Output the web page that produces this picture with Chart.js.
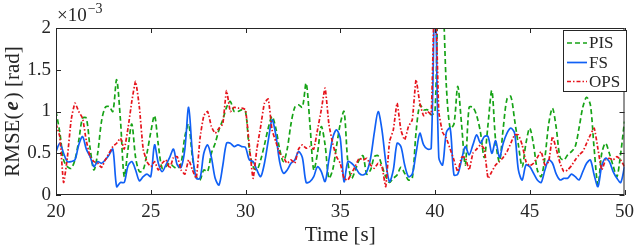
<!DOCTYPE html>
<html>
<head>
<meta charset="utf-8">
<script src="https://cdn.jsdelivr.net/npm/chart.js@4/dist/chart.umd.min.js"></script>
<style>
html,body{margin:0;padding:0;background:#fff;}
#c{display:block;}
</style>
</head>
<body>
<canvas id="c" width="640" height="248"></canvas>
<script>
// ---- data (values in units of 1e-3 rad) ----
const timeS = [
20.0,20.2,20.4,20.6,20.8,21.0,21.2,21.4,21.6,21.8,
22.0,22.2,22.4,22.6,22.8,23.0,23.2,23.4,23.6,23.8,
24.0,24.2,24.4,24.6,24.8,25.0,25.2,25.4,25.6,25.8,
26.0,26.2,26.4,26.6,26.8,27.0,27.2,27.4,27.6,27.8,
28.0,28.2,28.4,28.6,28.8,29.0,29.2,29.4,29.6,29.8,
30.0,30.2,30.4,30.6,30.8,31.0,31.2,31.4,31.6,31.8,
32.0,32.2,32.4,32.6,32.8,33.0,33.2,33.4,33.6,33.8,
34.0,34.2,34.4,34.6,34.8,35.0,35.2,35.4,35.6,35.8,
36.0,36.2,36.4,36.6,36.8,37.0,37.2,37.4,37.6,37.8,
38.0,38.2,38.4,38.6,38.8,39.0,39.2,39.4,39.6,39.8,
40.0,40.2,40.4,40.6,40.8,41.0,41.2,41.4,41.6,41.8,
42.0,42.2,42.4,42.6,42.8,43.0,43.2,43.4,43.6,43.8,
44.0,44.2,44.4,44.6,44.8,45.0,45.2,45.4,45.6,45.8,
46.0,46.2,46.4,46.6,46.8,47.0,47.2,47.4,47.6,47.8,
48.0,48.2,48.4,48.6,48.8,49.0,49.2,49.4,49.6,49.8,
50.0];

const pisRmse = [
1.0,0.75,0.42,0.34,0.32,0.42,0.65,0.92,0.92,0.56,
0.3,0.5,0.88,1.05,1.06,1.0,1.38,0.9,0.22,0.55,
0.85,0.45,0.28,0.3,0.5,0.75,0.95,0.6,0.32,0.34,
0.38,0.34,0.32,0.38,0.7,0.85,0.45,0.22,0.18,0.3,
0.28,0.5,0.62,0.78,0.9,1.05,1.12,1.0,1.0,1.02,
1.0,0.55,0.34,0.3,0.42,0.6,0.8,0.94,0.8,0.55,
0.4,0.55,0.85,1.05,1.08,1.05,1.34,0.85,0.3,0.5,
0.82,0.6,0.2,0.3,0.58,0.85,1.0,0.4,0.2,0.3,
0.42,0.47,0.25,0.3,0.46,0.47,0.35,0.22,0.15,0.2,
0.24,0.33,0.26,0.18,0.2,0.75,1.08,1.02,1.02,0.96,
1.0,2.6,2.4,1.3,0.8,0.85,1.3,0.85,0.36,1.05,
1.05,0.95,0.75,0.45,0.85,1.25,0.65,0.4,0.8,1.15,
1.18,0.9,0.6,0.34,0.62,0.8,0.6,0.3,0.22,0.45,
0.85,1.04,0.8,0.45,0.42,0.48,0.52,0.58,0.8,1.05,
1.17,1.08,0.55,0.12,0.5,0.62,0.5,0.35,0.22,0.5,
0.88];

const fsRmse = [
0.52,0.62,0.5,0.4,0.4,0.42,0.6,0.7,0.55,0.46,
0.34,0.4,0.38,0.42,0.48,0.55,0.1,0.15,0.15,0.35,
0.4,0.3,0.17,0.22,0.25,0.22,0.6,0.38,0.28,0.36,
0.45,0.55,0.36,0.33,0.55,1.05,0.5,0.2,0.2,0.5,
0.6,0.45,0.2,0.12,0.35,0.62,0.62,0.58,0.6,0.58,
0.57,0.42,0.4,0.3,0.22,0.38,0.65,0.9,0.72,0.4,
0.26,0.3,0.38,0.42,0.52,0.45,0.15,0.16,0.22,0.34,
0.28,0.16,0.42,0.68,0.78,0.68,0.16,0.4,0.38,0.33,
0.26,0.24,0.28,0.44,0.75,1.0,0.78,0.4,0.16,0.3,
0.62,0.58,0.36,0.22,0.25,0.5,0.74,0.6,0.55,0.56,
2.5,0.45,0.36,0.75,0.8,0.24,0.25,0.42,0.58,0.48,
0.6,0.72,0.62,0.7,0.7,0.5,0.65,0.45,0.62,0.74,
0.8,0.74,0.3,0.18,0.36,0.34,0.26,0.18,0.15,0.3,
0.42,0.38,0.25,0.18,0.2,0.2,0.25,0.22,0.18,0.28,
0.38,0.42,0.24,0.1,0.35,0.44,0.4,0.28,0.2,0.15,
0.34];

const opsRmse = [
0.85,0.7,0.15,0.45,0.9,1.1,1.0,0.92,0.65,0.46,
0.4,0.38,0.33,0.42,0.5,0.58,0.62,0.68,0.55,0.8,
1.12,1.36,1.05,0.55,0.4,0.34,0.4,0.3,0.38,0.42,
0.32,0.45,0.46,0.3,0.25,0.42,0.3,0.2,0.68,0.95,
1.0,0.82,0.74,0.8,0.85,1.25,1.0,1.05,1.04,1.04,
1.02,0.6,0.2,0.55,0.82,1.1,1.15,0.78,0.64,0.5,
0.45,0.38,0.42,0.38,0.55,0.6,0.56,0.58,0.55,0.78,
1.02,1.28,0.85,0.62,0.46,0.38,0.2,0.18,0.26,0.35,
0.44,0.42,0.44,0.36,0.32,0.38,0.34,0.1,0.64,0.78,
1.1,0.78,0.66,0.82,0.9,1.38,1.1,0.95,1.0,0.97,
2.6,1.0,0.75,0.68,0.55,0.42,0.28,0.45,0.45,0.3,
0.5,0.55,0.6,0.55,0.2,0.28,0.36,0.4,0.45,0.52,
0.62,0.72,0.72,0.6,0.4,0.35,0.38,0.45,0.52,0.36,
0.4,0.7,0.55,0.38,0.28,0.3,0.35,0.42,0.48,0.52,
0.62,0.72,0.8,0.55,0.3,0.42,0.44,0.42,0.46,0.42,
0.34];

const seriesNames = ['PIS', 'FS', 'OPS'];
const xTicks = [20, 25, 30, 35, 40, 45, 50];
const yTicks = [0, 0.5, 1, 1.5, 2];
const yTickLabels = ['0', '0.5', '1', '1.5', '2'];

// ---- styles ----
const COLORS = ['#16a316', '#1060f5', '#e6141c'];
const DASHES = [[5, 3], [], [4, 2, 1.5, 2]];
const AXIS = '#262626';
const SERIF = '"Liberation Serif", "DejaVu Serif", serif';

const toXY = arr => arr.map((v, i) => ({ x: timeS[i], y: v }));

const PL = 56, PR = 629, PT = 28, PB = 195;

const decor = {
  id: 'decor',
  afterDatasetsDraw(chart) {
    const ctx = chart.ctx;
    const xs = chart.scales.x, ys = chart.scales.y;
    const a = chart.chartArea;
    ctx.save();
    // box
    ctx.strokeStyle = AXIS;
    ctx.lineWidth = 1;
    ctx.setLineDash([]);
    ctx.strokeRect(a.left + 0.5, a.top + 0.5, a.right - a.left - 1, a.bottom - a.top - 1);
    // inward ticks
    ctx.beginPath();
    xTicks.forEach(t => {
      const px = Math.round(xs.getPixelForValue(t)) + 0.5;
      ctx.moveTo(px, a.bottom); ctx.lineTo(px, a.bottom - 5);
      ctx.moveTo(px, a.top); ctx.lineTo(px, a.top + 5);
    });
    yTicks.forEach(t => {
      const py = Math.round(ys.getPixelForValue(t)) + 0.5;
      ctx.moveTo(a.left, py); ctx.lineTo(a.left + 5, py);
      ctx.moveTo(a.right, py); ctx.lineTo(a.right - 5, py);
    });
    ctx.stroke();

    // exponent label
    ctx.fillStyle = AXIS;
    ctx.textBaseline = 'alphabetic';
    ctx.textAlign = 'left';
    ctx.font = '19px ' + SERIF;
    ctx.fillText('\u00D710', a.left + 1, 21);
    const w10 = ctx.measureText('\u00D710').width;
    ctx.font = '14px ' + SERIF;
    ctx.fillText('\u22123', a.left + 1 + w10 + 1, 13);

    // x title
    ctx.font = '21px ' + SERIF;
    ctx.textAlign = 'center';
    ctx.textBaseline = 'middle';
    ctx.fillText('Time [s]', (a.left + a.right) / 2, 235);

    // y title with bold italic e
    ctx.save();
    ctx.translate(13, (a.top + a.bottom) / 2);
    ctx.rotate(-Math.PI / 2);
    const parts = [
      ['RMSE(', '21px ' + SERIF],
      ['e', 'italic bold 21px ' + SERIF],
      [') [rad]', '21px ' + SERIF]
    ];
    let total = 0;
    parts.forEach(p => { ctx.font = p[1]; total += ctx.measureText(p[0]).width; });
    total += 4;
    let cx = -total / 2;
    ctx.textAlign = 'left';
    parts.forEach((p, i) => {
      ctx.font = p[1];
      ctx.fillText(p[0], cx, 0);
      cx += ctx.measureText(p[0]).width + (i < 2 ? 2 : 0);
    });
    ctx.restore();

    // legend
    const lx = 563.5, ly = 30.5, lw = 63, lh = 61;
    ctx.fillStyle = '#fff';
    ctx.fillRect(lx, ly, lw, lh);
    ctx.strokeStyle = AXIS;
    ctx.lineWidth = 1;
    ctx.strokeRect(lx, ly, lw, lh);
    const rows = [43, 62.5, 81.5];
    chart.data.datasets.forEach((ds, i) => {
      const y = rows[i];
      ctx.strokeStyle = ds.borderColor;
      ctx.lineWidth = ds.borderWidth;
      ctx.setLineDash(ds.borderDash || []);
      ctx.beginPath();
      ctx.moveTo(567, y); ctx.lineTo(587, y);
      ctx.stroke();
      ctx.setLineDash([]);
      ctx.fillStyle = AXIS;
      ctx.font = '17px ' + SERIF;
      ctx.textAlign = 'left';
      ctx.textBaseline = 'middle';
      ctx.fillText(ds.label, 589, y + 1);
    });
    ctx.restore();
  }
};

new Chart(document.getElementById('c'), {
  type: 'line',
  data: {
    datasets: [
      { label: seriesNames[0], data: toXY(pisRmse), borderColor: COLORS[0], borderWidth: 1.7, borderDash: DASHES[0], tension: 0.3, order: 3 },
      { label: seriesNames[1], data: toXY(fsRmse), borderColor: COLORS[1], borderWidth: 1.7, borderDash: DASHES[1], tension: 0.3, order: 2 },
      { label: seriesNames[2], data: toXY(opsRmse), borderColor: COLORS[2], borderWidth: 1.7, borderDash: DASHES[2], tension: 0.15, order: 1 }
    ]
  },
  options: {
    responsive: false,
    animation: false,
    devicePixelRatio: 1,
    layout: { padding: { left: 0, right: 640 - PR, top: PT, bottom: 0 } },
    elements: { point: { radius: 0 } },
    plugins: { legend: { display: false }, tooltip: { enabled: false } },
    scales: {
      x: {
        type: 'linear', min: 20, max: 50,
        afterBuildTicks: s => { s.ticks = xTicks.map(v => ({ value: v })); },
        ticks: { color: AXIS, font: { family: SERIF, size: 19 }, padding: 6, maxRotation: 0 },
        grid: { display: false, drawTicks: false },
        border: { display: false },
        afterFit: s => { s.height = 248 - PB; }
      },
      y: {
        min: 0, max: 2,
        afterBuildTicks: s => { s.ticks = yTicks.map(v => ({ value: v })); },
        ticks: { color: AXIS, font: { family: SERIF, size: 19 }, padding: 5,
                 callback: (v) => yTickLabels[yTicks.indexOf(v)] },
        grid: { display: false, drawTicks: false },
        border: { display: false },
        afterFit: s => { s.width = PL; }
      }
    }
  },
  plugins: [decor]
});
</script>
</body>
</html>
